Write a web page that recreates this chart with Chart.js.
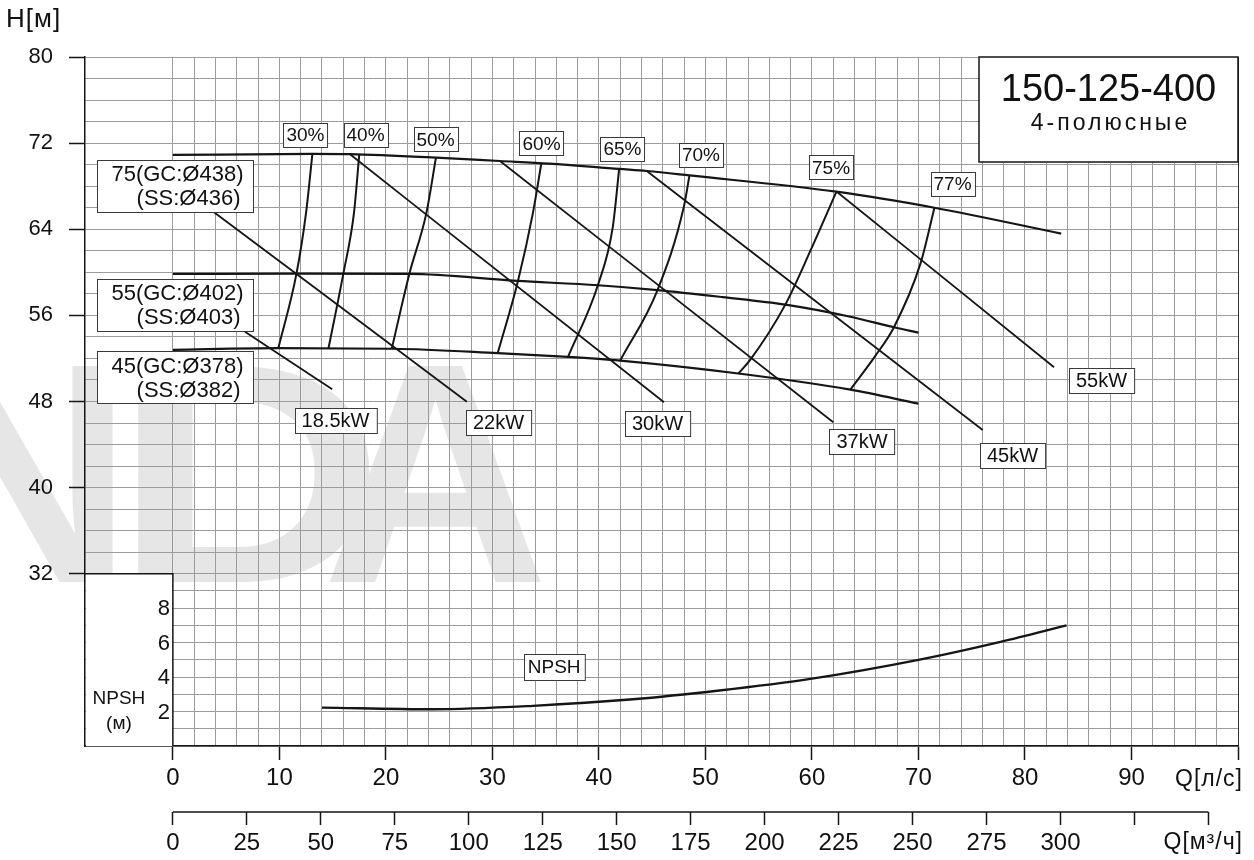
<!DOCTYPE html>
<html>
<head>
<meta charset="utf-8">
<script src="https://cdn.jsdelivr.net/npm/chart.js@4/dist/chart.umd.min.js"></script>
<style>
  html, body { margin: 0; padding: 0; background: #fff; }
  #wrap { width: 1254px; height: 860px; }
</style>
</head>
<body>
<div id="wrap"><canvas id="pumpChart" width="1254" height="860"></canvas></div>
<script>
// Напорные характеристики, Q [л/с] -> H [м]
const head438 = [[0, 70.9], [13.1, 71.0], [16.6, 70.97], [24.7, 70.65], [30.7, 70.34], [35.3, 70.1], [41.9, 69.6], [44.5, 69.41], [48.5, 69.0], [62.3, 67.49], [71.5, 66.0], [83.4, 63.6]];
const head402 = [[0, 59.85], [11.6, 59.87], [22.2, 59.85], [32.3, 59.2], [39.9, 58.8], [45.5, 58.35], [51.6, 57.7], [57.5, 57.0], [63.5, 55.9], [67.7, 54.9], [70.0, 54.4]];
const head378 = [[0, 52.8], [9.9, 52.95], [20.6, 52.9], [30.5, 52.5], [37.1, 52.15], [42.0, 51.8], [53.1, 50.6], [63.6, 49.1], [70.0, 47.8]];

// Линии КПД
const effLabels = ['30%', '40%', '50%', '60%', '65%', '70%', '75%', '77%'];
const effCurves = [
  [[9.9, 52.95], [11.6, 59.85], [12.5, 65.5], [13.1, 71.0]],
  [[14.6, 52.9], [16.0, 59.85], [17.0, 65.5], [17.5, 70.95]],
  [[20.55, 52.9], [22.2, 59.85], [23.8, 65.5], [24.7, 70.65]],
  [[30.5, 52.5], [32.4, 59.2], [33.8, 65.5], [34.6, 70.15]],
  [[37.1, 52.15], [39.9, 58.8], [41.3, 64.2], [41.9, 69.6]],
  [[42.0, 51.8], [45.5, 58.35], [48.0, 66.2], [48.5, 69.0]],
  [[53.1, 50.6], [54.2, 51.86], [57.5, 57.0], [59.9, 62.1], [62.3, 67.49]],
  [[63.6, 49.1], [65.95, 52.24], [67.7, 54.9], [70.2, 60.85], [71.5, 66.0]]
];

// Линии мощности
const powerLabels = ['18.5kW', '22kW', '30kW', '37kW', '45kW', '55kW'];
const powerLines = [
  [[6.77, 54.48], [14.96, 49.13]],
  [[3.8, 65.63], [27.6, 47.98]],
  [[16.63, 70.96], [46.11, 47.93]],
  [[30.71, 70.34], [62.0, 46.07]],
  [[44.49, 69.41], [76.03, 45.35]],
  [[62.33, 67.49], [82.73, 51.18]]
];

// NPSH [м]
const npsh = [[14.0, 2.23], [24.4, 2.13], [33.8, 2.33], [43.2, 2.71], [51.3, 3.22], [59.7, 3.88], [70.0, 5.0], [77.8, 6.06], [83.9, 7.0]];

// Подписи рабочих колёс
const impellerLabels = [['75(GC:Ø438)', '(SS:Ø436)'], ['55(GC:Ø402)', '(SS:Ø403)'], ['45(GC:Ø378)', '(SS:Ø382)']];

// Деления осей
const qTicks = [0, 10, 20, 30, 40, 50, 60, 70, 80, 90];
const qm3Ticks = [0, 25, 50, 75, 100, 125, 150, 175, 200, 225, 250, 275, 300];
const hTicks = [32, 40, 48, 56, 64, 72, 80];
const npshTicks = [2, 4, 6, 8];

// Привязка подписей (в единицах осей)
const effLabelAt = [[12.45, 72.76], [18.09, 72.76], [24.66, 72.34], [34.61, 71.97], [42.21, 71.5], [49.58, 70.9], [61.79, 69.74], [73.2, 68.2]];
const powerLabelAt = [[15.27, 46.28], [30.57, 46.05], [45.5, 45.96], [64.7, 44.24], [78.83, 42.98], [87.19, 49.95]];
const impellerLabelH = [68.02, 56.96, 50.23];
const npshLabelAt = [35.8, 4.6];

const FONT = "'Liberation Sans', Arial, sans-serif";
const INK = '#151515';
const GRID = '#9c9c9c';

function steps(from, to, step) {
    const out = [];
    for (let v = from; v <= to + 1e-9; v += step) out.push(+v.toFixed(3));
    return out;
}

function curve(points, yAxisID, width) {
    return {
        data: points.map(p => ({ x: p[0], y: p[1] })),
        yAxisID: yAxisID,
        borderColor: INK,
        borderWidth: width || 2,
        pointRadius: 0,
        fill: false,
        cubicInterpolationMode: 'monotone'
    };
}

function boxLabel(ctx, text, cx, cy, padX, h, size) {
    ctx.font = size + 'px ' + FONT;
    const w = ctx.measureText(text).width + padX * 2;
    const left = Math.round(cx - w / 2) + 0.5;
    const top = Math.round(cy - h / 2) + 0.5;
    ctx.fillStyle = '#fff';
    ctx.fillRect(left, top, w, h);
    ctx.strokeStyle = '#3a3a3a';
    ctx.lineWidth = 1;
    ctx.strokeRect(left, top, w, h);
    ctx.fillStyle = '#111';
    ctx.textAlign = 'center';
    ctx.textBaseline = 'middle';
    ctx.fillText(text, cx, cy + 1);
}

const datasets = [];
datasets.push(curve(head438, 'y', 2.2));
datasets.push(curve(head402, 'y', 2.2));
datasets.push(curve(head378, 'y', 2.2));
effCurves.forEach(c => datasets.push(curve(c, 'y', 2)));
powerLines.forEach(c => datasets.push(curve(c, 'y', 1.8)));
datasets.push(curve(npsh, 'y2', 2.4));

// Водяной знак, боковая рамка NPSH, подписи
const decorations = {
    id: 'decorations',
    beforeDraw(chart) {
        const ctx = chart.ctx;
        ctx.save();
        ctx.fillStyle = '#e6e6e6';
        ctx.textBaseline = 'alphabetic';
        ctx.textAlign = 'left';
        ctx.font = 'bold 314px ' + FONT;
        ctx.fillText('N', -93, 582);
        ctx.save();
        ctx.translate(113, 582);
        ctx.scale(1.2, 1);
        ctx.fillText('D', 0, 0);
        ctx.restore();
        ctx.fillText('A', 322, 582);
        ctx.restore();
    },
    beforeDatasetsDraw(chart) {
        const ctx = chart.ctx;
        const a = chart.chartArea;
        const x0 = chart.scales.x.getPixelForValue(0);
        const y32 = chart.scales.y.getPixelForValue(32);
        ctx.save();
        ctx.fillStyle = '#fff';
        ctx.fillRect(a.left + 1, y32, x0 - a.left - 1, a.bottom - y32);
        ctx.strokeStyle = INK;
        ctx.lineWidth = 1.5;
        ctx.beginPath();
        ctx.moveTo(a.left, y32);
        ctx.lineTo(x0, y32);
        ctx.lineTo(x0, a.bottom);
        ctx.stroke();
        ctx.restore();
    },
    afterDatasetsDraw(chart) {
        const ctx = chart.ctx;
        const a = chart.chartArea;
        const sx = chart.scales.x, sy = chart.scales.y, sy2 = chart.scales.y2, sx2 = chart.scales.x2;
        ctx.save();

        effLabels.forEach((t, i) => {
            boxLabel(ctx, t, sx.getPixelForValue(effLabelAt[i][0]), sy.getPixelForValue(effLabelAt[i][1]), 3, 24, 19);
        });
        powerLabels.forEach((t, i) => {
            boxLabel(ctx, t, sx.getPixelForValue(powerLabelAt[i][0]), sy.getPixelForValue(powerLabelAt[i][1]), 7, 25, 20);
        });
        boxLabel(ctx, 'NPSH', sx.getPixelForValue(npshLabelAt[0]), sy2.getPixelForValue(npshLabelAt[1]), 4, 26, 19);

        // подписи диаметров
        impellerLabels.forEach((lines, i) => {
            const cy = sy.getPixelForValue(impellerLabelH[i]);
            const left = a.left + 12.5, w = 156, h = 52;
            const top = Math.round(cy - h / 2) + 0.5;
            ctx.fillStyle = '#fff';
            ctx.fillRect(left, top, w, h);
            ctx.strokeStyle = '#3a3a3a';
            ctx.lineWidth = 1;
            ctx.strokeRect(left, top, w, h);
            ctx.fillStyle = '#111';
            ctx.font = '22px ' + FONT;
            ctx.textAlign = 'right';
            ctx.textBaseline = 'middle';
            ctx.fillText(lines[0], left + w - 10, cy - 11);
            ctx.fillText(lines[1], left + w - 13, cy + 13);
        });

        // заголовок
        const tw = 259, th = 105;
        ctx.fillStyle = '#fff';
        ctx.fillRect(a.right - tw, a.top, tw, th);
        ctx.strokeStyle = INK;
        ctx.lineWidth = 1.5;
        ctx.strokeRect(a.right - tw, a.top, tw, th);
        ctx.fillStyle = '#111';
        ctx.textAlign = 'center';
        ctx.textBaseline = 'middle';
        ctx.font = '38px ' + FONT;
        ctx.fillText('150-125-400', a.right - tw / 2, a.top + 34);
        ctx.font = '23px ' + FONT;
        ctx.letterSpacing = '3px';
        ctx.fillText('4-полюсные', a.right - tw / 2 + 2, a.top + 67);
        ctx.letterSpacing = '0px';

        // вторая ось расхода
        ctx.strokeStyle = INK;
        ctx.lineWidth = 1.5;
        ctx.beginPath();
        ctx.moveTo(sx2.getPixelForValue(0), sx2.top);
        ctx.lineTo(sx2.getPixelForValue(350), sx2.top);
        ctx.stroke();
        ctx.restore();
    },
    afterDraw(chart) {
        const ctx = chart.ctx;
        const a = chart.chartArea;
        const sx = chart.scales.x, sx2 = chart.scales.x2, sy2 = chart.scales.y2;
        const x0 = sx.getPixelForValue(0);
        ctx.save();
        ctx.fillStyle = '#111';
        ctx.textBaseline = 'middle';
        ctx.font = '26px ' + FONT;
        ctx.textAlign = 'left';
        ctx.letterSpacing = '1px';
        ctx.fillText('H[м]', 6, 20);
        ctx.font = '23px ' + FONT;
        ctx.textAlign = 'right';
        ctx.fillText('Q[л/с]', a.right + 5, sx.top + 34);
        ctx.fillText('Q[м³/ч]', a.right + 5, sx2.top + 31);
        ctx.letterSpacing = '0px';

        // деления шкалы NPSH внутри рамки
        ctx.font = '22px ' + FONT;
        ctx.textAlign = 'right';
        npshTicks.forEach(v => ctx.fillText(String(v), x0 - 3, sy2.getPixelForValue(v) + 1));

        const mid = (a.left + x0) / 2 - 10;
        ctx.textAlign = 'center';
        ctx.font = '19px ' + FONT;
        ctx.fillText('NPSH', mid, sy2.getPixelForValue(2) - 13);
        ctx.fillText('(м)', mid, sy2.getPixelForValue(2) + 12);
        ctx.restore();
    }
};

const ctx = document.getElementById('pumpChart').getContext('2d');
new Chart(ctx, {
    type: 'line',
    data: { datasets: datasets },
    options: {
        responsive: false,
        animation: false,
        layout: { padding: { top: 57, right: 16, left: 0, bottom: 0 } },
        plugins: { legend: { display: false }, tooltip: { enabled: false } },
        scales: {
            x: {
                type: 'linear', position: 'bottom', weight: 0,
                min: -8.25, max: 100,
                afterBuildTicks: s => { s.ticks = steps(0, 100, 2).map(v => ({ value: v })); },
                afterFit: s => { s.height = 66; },
                grid: {
                    color: c => c.tick && c.tick.value === 100 ? '#333' : GRID,
                    lineWidth: 1,
                    tickLength: 14,
                    tickWidth: 1.5,
                    tickColor: c => c.tick && c.tick.value % 10 === 0 ? INK : 'rgba(0,0,0,0)'
                },
                border: { display: true, color: INK, width: 1.5 },
                ticks: {
                    autoSkip: false, maxRotation: 0, padding: 4,
                    color: '#111', font: { family: FONT, size: 24 },
                    callback: v => qTicks.includes(v) ? String(v) : ''
                }
            },
            x2: {
                type: 'linear', position: 'bottom', weight: 1,
                min: -8.25 * 3.6, max: 100 * 3.6,
                afterBuildTicks: s => { s.ticks = steps(0, 350, 25).map(v => ({ value: v })); },
                afterFit: s => { s.height = 48; },
                grid: { drawOnChartArea: false, tickLength: 13, tickWidth: 1.5, tickColor: INK },
                border: { display: false },
                ticks: {
                    autoSkip: false, maxRotation: 0, padding: 4,
                    color: '#111', font: { family: FONT, size: 24 },
                    callback: v => qm3Ticks.includes(v) ? String(v) : ''
                }
            },
            y: {
                type: 'linear', position: 'left', weight: 10,
                min: 16, max: 80,
                afterBuildTicks: s => { s.ticks = steps(32, 80, 2).map(v => ({ value: v })); },
                afterFit: s => { s.width = 85; },
                grid: {
                    color: GRID, lineWidth: 1,
                    tickLength: 16, tickWidth: 1.5,
                    tickColor: c => c.tick && hTicks.includes(c.tick.value) ? INK : 'rgba(0,0,0,0)'
                },
                border: { display: true, color: INK, width: 1.5 },
                ticks: {
                    autoSkip: false, padding: 16,
                    color: '#111', font: { family: FONT, size: 22 },
                    callback: v => hTicks.includes(v) ? String(v) : ''
                }
            },
            y2: {
                type: 'linear', position: 'left', weight: 0,
                min: 0, max: 40,
                afterBuildTicks: s => { s.ticks = steps(0, 10, 1).map(v => ({ value: v })); },
                afterFit: s => { s.width = 0; },
                grid: { color: GRID, lineWidth: 1, drawTicks: false },
                border: { display: false },
                ticks: { display: false, autoSkip: false }
            }
        }
    },
    plugins: [decorations]
});
</script>
</body>
</html>
